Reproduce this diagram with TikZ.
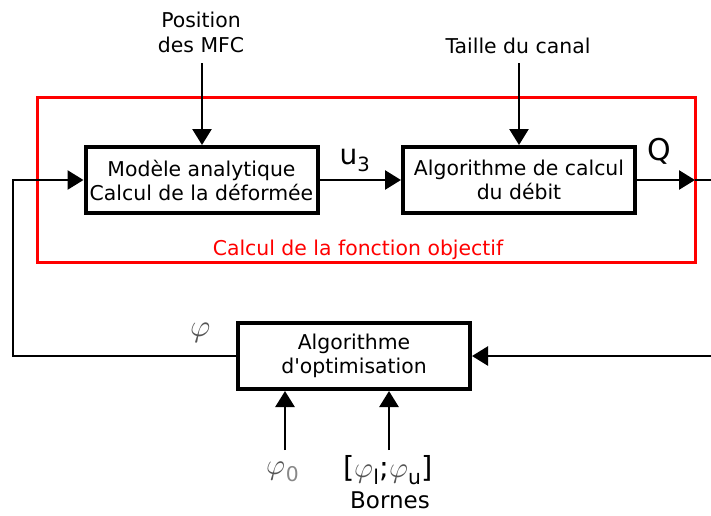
\documentclass[tikz,border=0pt]{standalone}
\usepackage{fontspec}
\usepackage{unicode-math}
\setmainfont{DejaVu Sans}
\setmathfont{Latin Modern Math}
\usetikzlibrary{arrows.meta}
\definecolor{phigray}{HTML}{555555}
\definecolor{zerogray}{HTML}{888888}
\begin{document}
\begin{tikzpicture}[x=1pt,y=-1pt,
  blk/.style={draw,line width=4pt,minimum width=232pt,minimum height=66pt,align=center,inner sep=2pt,font=\fontsize{20.4}{24}\selectfont},
  conn/.style={line width=2.6pt},
  arr/.style={line width=2.6pt,-{Triangle[length=16pt,width=19pt]}},
  lbl/.style={align=center,inner sep=1pt,font=\fontsize{20.4}{25}\selectfont},
  big/.style={inner sep=1pt,font=\fontsize{30}{30}\selectfont}]
\useasboundingbox (0,0) rectangle (711,515);
% red frame
\draw[red,line width=3pt] (37,97) rectangle (695,262);
\node[text=red,lbl,anchor=base] (objf) at (358,255) {Calcul de la fonction objectif};
% blocks
\node[blk] (b1) at (201.5,180) {Modèle analytique\\Calcul de la déformée};
\node[blk] (b2) at (519,180) {Algorithme de calcul\\du débit};
\node[blk] (b3) at (354,356) {Algorithme\\d\textquotesingle optimisation};
% top inputs
\node[lbl,anchor=base] (pos) at (201,52) {Position\\des MFC};
\node[lbl,anchor=base] (tai) at (518,53) {Taille du canal};
\coordinate (posS) at (202,63);
\coordinate (taiS) at (519,63);
\draw[arr] (posS) -- (posS |- b1.north);
\draw[arr] (taiS) -- (taiS |- b2.north);
% main chain
\draw[arr] (b1.east) -- (b2.west);
\node[big,font=\fontsize{28}{28}\selectfont] (u3) at (355,160) {u\textsubscript{3}};
\coordinate (qend) at (695,180);
\coordinate (redge) at (711,180);
\draw[arr] (b2.east) -- (qend);
\draw[conn] (qend) -- (redge);
\node[big,anchor=base] (q) at (659,160) {Q};
% feedback
\coordinate (rin) at (711,356);
\draw[arr] (rin) -- (b3.east);
\coordinate (lc1) at (13,356);
\coordinate (lc2) at (13,180);
\draw[arr] (b3.west) -- (lc1) -- (lc2) -- (b1.west);
\node[inner sep=0pt,text=phigray,font=\fontsize{31}{31}\selectfont] (phi) at (201,333) {$\varphi$};
% bottom inputs
\node[inner sep=1pt,text=phigray,font=\fontsize{29}{29}\selectfont] (phi0) at (283,472) {$\varphi$\textsubscript{\color{zerogray}0}};
\node[inner sep=1pt,font=\fontsize{29}{29}\selectfont] (bnd) at (388,470) {[{\color{phigray}$\varphi$}\textsubscript{l};{\color{phigray}$\varphi$}\textsubscript{u}]};
\node[lbl,font=\fontsize{23}{25}\selectfont,anchor=base] (born) at (390,508) {Bornes};
\coordinate (p0s) at (285,450);
\coordinate (bns) at (389,450);
\draw[arr] (p0s) -- (p0s |- b3.south);
\draw[arr] (bns) -- (bns |- b3.south);
\end{tikzpicture}
\end{document}
